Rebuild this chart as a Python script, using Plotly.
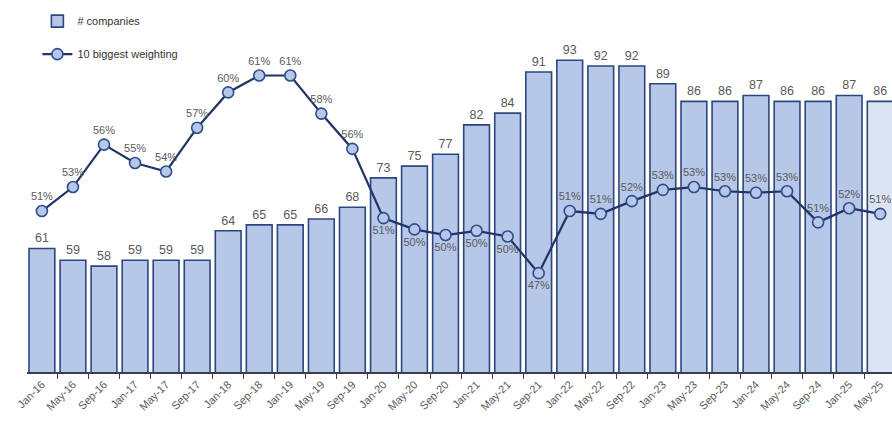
import plotly.graph_objects as go

periods = ["Jan-16", "May-16", "Sep-16", "Jan-17", "May-17", "Sep-17", "Jan-18", "Sep-18",
           "Jan-19", "May-19", "Sep-19", "Jan-20", "May-20", "Sep-20", "Jan-21", "May-21",
           "Sep-21", "Jan-22", "May-22", "Sep-22", "Jan-23", "May-23", "Sep-23", "Jan-24",
           "May-24", "Sep-24", "Jan-25", "May-25"]

companies = [61, 59, 58, 59, 59, 59, 64, 65, 65, 66, 68, 73, 75, 77, 82, 84,
             91, 93, 92, 92, 89, 86, 86, 87, 86, 86, 87, 86]

top10_weight = [51.4, 53.1, 56.1, 54.8, 54.2, 57.3, 59.8, 61.0, 61.0, 58.3, 55.8, 50.9,
                50.1, 49.7, 50.0, 49.6, 47.0, 51.4, 51.2, 52.1, 52.9, 53.1, 52.8, 52.7,
                52.8, 50.6, 51.6, 51.2]

BAR_FILL = "#B6C7E8"
BAR_LAST = "#DCE4F3"
BAR_EDGE = "#2E4680"
LINE_COL = "#1F3366"
TXT = "#5A5A5A"

bar_colors = [BAR_FILL] * (len(companies) - 1) + [BAR_LAST]
label_pos = ["bottom center" if 11 <= i <= 16 else "top center" for i in range(len(periods))]

fig = go.Figure()
fig.add_trace(go.Bar(
    x=periods, y=companies, name="# companies",
    marker=dict(color=bar_colors, line=dict(color=BAR_EDGE, width=1.6)),
    text=[f"{v}" for v in companies], textposition="outside",
    textfont=dict(color=TXT, size=12.5), cliponaxis=False,
    legendgroup="a", yaxis="y",
))
fig.add_trace(go.Scatter(
    x=periods, y=top10_weight, name="10 biggest weighting",
    mode="lines+markers+text",
    line=dict(color=LINE_COL, width=2.2),
    marker=dict(size=11, color=BAR_FILL, line=dict(color="#2F4C8C", width=1.6)),
    texttemplate="%{y:.0f}%", textposition=label_pos,
    textfont=dict(color=TXT, size=11), cliponaxis=False,
    legendgroup="b", yaxis="y2",
))

fig.update_layout(
    width=892, height=421,
    margin=dict(l=27, r=0, t=19, b=49),
    paper_bgcolor="white", plot_bgcolor="white",
    font=dict(family="Liberation Sans, Arial, sans-serif", color=TXT),
    bargap=0.17,
    showlegend=True,
    legend=dict(x=0.012, y=1.035, xanchor="left", yanchor="top",
                font=dict(size=11, color="#333333"), tracegroupgap=14,
                bgcolor="rgba(0,0,0,0)"),
    xaxis=dict(range=[-0.48, 27.38], showgrid=False, showline=True,
               linecolor="#3A3F4A", linewidth=1.5, ticks="outside", ticklen=5,
               tickcolor="#3A3F4A", tickson="boundaries", tickangle=-45,
               tickfont=dict(size=11, color=TXT)),
    yaxis=dict(range=[40, 100], visible=False, showgrid=False),
    yaxis2=dict(range=[40, 65], overlaying="y", visible=False, showgrid=False),
)

fig.write_html("out.html")
